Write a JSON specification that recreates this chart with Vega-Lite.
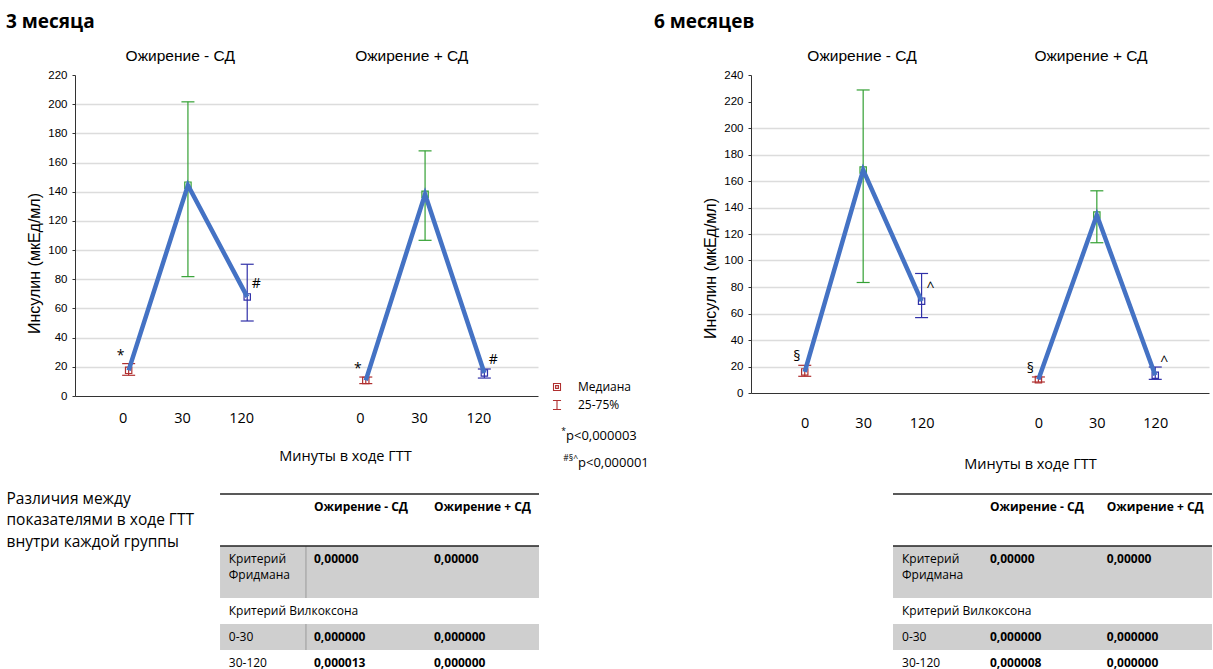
{
  "$schema": "https://vega.github.io/schema/vega-lite/v6.json",
  "padding": {"left": 6, "top": 13, "right": 0, "bottom": 0},
  "background": "white",
  "config": {
    "view": {"stroke": null},
    "font": "Open Sans",
    "title": {"font": "Open Sans", "fontSize": 19, "fontWeight": "bold", "color": "#000000", "anchor": "start", "frame": "group", "offset": 16},
    "axis": {"labelColor": "#000000", "titleColor": "#000000", "domainColor": "#333333", "tickColor": "#333333"}
  },
  "datasets": {
    "m3": [
      {"group": "Ожирение - СД", "minute": "0", "slot": "A0", "median": 17.6, "q1": 14.2, "q3": 22.2, "sign": "*"},
      {"group": "Ожирение - СД", "minute": "30", "slot": "A30", "median": 144.5, "q1": 81.8, "q3": 201.6, "sign": ""},
      {"group": "Ожирение - СД", "minute": "120", "slot": "A120", "median": 67.9, "q1": 51.4, "q3": 90.3, "sign": "#"},
      {"group": "Ожирение + СД", "minute": "0", "slot": "B0", "median": 10.7, "q1": 8.5, "q3": 13.0, "sign": "*"},
      {"group": "Ожирение + СД", "minute": "30", "slot": "B30", "median": 138.3, "q1": 106.7, "q3": 168.0, "sign": ""},
      {"group": "Ожирение + СД", "minute": "120", "slot": "B120", "median": 15.8, "q1": 12.3, "q3": 18.5, "sign": "#"}
    ],
    "m6": [
      {"group": "Ожирение - СД", "minute": "0", "slot": "A0", "median": 15.9, "q1": 12.6, "q3": 20.9, "sign": "§"},
      {"group": "Ожирение - СД", "minute": "30", "slot": "A30", "median": 168.3, "q1": 83.4, "q3": 228.7, "sign": ""},
      {"group": "Ожирение - СД", "minute": "120", "slot": "A120", "median": 69.3, "q1": 56.9, "q3": 90.2, "sign": "^"},
      {"group": "Ожирение + СД", "minute": "0", "slot": "B0", "median": 10.1, "q1": 8.3, "q3": 12.1, "sign": "§"},
      {"group": "Ожирение + СД", "minute": "30", "slot": "B30", "median": 134.3, "q1": 113.4, "q3": 152.6, "sign": ""},
      {"group": "Ожирение + СД", "minute": "120", "slot": "B120", "median": 13.4, "q1": 10.3, "q3": 19.6, "sign": "^"}
    ],
    "groups": [{"group": "Ожирение - СД"}, {"group": "Ожирение + СД"}],
    "legend": [{"item": "Медиана"}, {"item": "25-75%"}],
    "pvalues": [{"sup": "*", "text": "p<0,000003"}, {"sup": "#§^", "text": "p<0,000001"}],
    "desc": [{"text": "Различия между\nпоказателями в ходе ГТТ\nвнутри каждой группы"}],
    "tab3": [
      {"line": "h1", "col": "g1", "text": "Ожирение - СД"},
      {"line": "h1", "col": "g2", "text": "Ожирение + СД"},
      {"line": "f1", "col": "label", "text": "Критерий\nФридмана"},
      {"line": "f1", "col": "g1", "text": "0,00000"},
      {"line": "f1", "col": "g2", "text": "0,00000"},
      {"line": "w", "col": "label", "text": "Критерий Вилкоксона"},
      {"line": "r1", "col": "label", "text": "0-30"},
      {"line": "r1", "col": "g1", "text": "0,000000"},
      {"line": "r1", "col": "g2", "text": "0,000000"},
      {"line": "r2", "col": "label", "text": "30-120"},
      {"line": "r2", "col": "g1", "text": "0,000013"},
      {"line": "r2", "col": "g2", "text": "0,000000"}
    ],
    "tab6": [
      {"line": "h1", "col": "g1", "text": "Ожирение - СД"},
      {"line": "h1", "col": "g2", "text": "Ожирение + СД"},
      {"line": "f1", "col": "label", "text": "Критерий\nФридмана"},
      {"line": "f1", "col": "g1", "text": "0,00000"},
      {"line": "f1", "col": "g2", "text": "0,00000"},
      {"line": "w", "col": "label", "text": "Критерий Вилкоксона"},
      {"line": "r1", "col": "label", "text": "0-30"},
      {"line": "r1", "col": "g1", "text": "0,000000"},
      {"line": "r1", "col": "g2", "text": "0,000000"},
      {"line": "r2", "col": "label", "text": "30-120"},
      {"line": "r2", "col": "g1", "text": "0,000008"},
      {"line": "r2", "col": "g2", "text": "0,000000"}
    ],
    "shades": [{"from": "f1", "to": "w"}, {"from": "r1", "to": "r2"}],
    "hlines": [{"line": "h1"}, {"line": "f1"}]
  },
  "vconcat": [
    {
      "spacing": 2,
      "hconcat": [
        {
          "width": 463,
          "height": 321,
          "title": {"text": "3 месяца", "dx": -69},
          "layer": [
            {
              "data": {"name": "m3"},
              "encoding": {
                "x": {
                  "field": "slot", "type": "nominal",
                  "scale": {"type": "point", "domain": ["A0", "A30", "A120", "gap", "B0", "B30", "B120"], "padding": 0.905},
                  "axis": {
                    "values": ["A0", "A30", "A120", "B0", "B30", "B120"],
                    "labelExpr": "slice(datum.label, 1)",
                    "ticks": false, "labelPadding": 15, "labelBaseline": "top", "labelAngle": 0, "labelOffset": -6,
                    "labelFont": "Open Sans", "labelFontSize": 14.5,
                    "title": "Минуты в ходе ГТТ", "titleFont": "Open Sans", "titleFontSize": 14.5, "titleFontWeight": "normal",
                    "titleX": 270, "titleY": 60, "titleBaseline": "middle", "titleAlign": "center"
                  }
                },
                "color": {"field": "minute", "type": "nominal", "scale": {"domain": ["0", "30", "120"], "range": ["#b03030", "#33a033", "#3030a8"]}, "legend": null}
              },
              "layer": [
                {
                  "mark": {"type": "rule", "strokeWidth": 1.2},
                  "encoding": {
                    "y": {
                      "field": "q1", "type": "quantitative", "title": "Инсулин (мкЕд/мл)",
                      "scale": {"domain": [0, 220], "nice": false},
                      "axis": {"values": [0, 20, 40, 60, 80, 100, 120, 140, 160, 180, 200, 220], "tickCount": 12, "labelOverlap": false, "grid": true, "gridColor": "#dcdcdc", "gridWidth": 1.5, "gridOpacity": {"condition": {"test": "datum.value > 200 || datum.value == 0", "value": 0}, "value": 1}, "tickSize": 3, "labelPadding": 5, "labelFont": "Liberation Sans", "labelFontSize": 11.5, "titleFont": "Liberation Sans", "titleFontSize": 16, "titleFontWeight": "normal", "titleX": -41, "titleY": 188, "titleBaseline": "middle", "titleAlign": "center", "titleAngle": 270}
                    },
                    "y2": {"field": "q3"}
                  }
                },
                {
                  "mark": {"type": "tick", "size": 13, "thickness": 1.2, "opacity": 1},
                  "encoding": {
                    "y": {"field": "q1", "type": "quantitative", "title": "Инсулин (мкЕд/мл)",
                      "axis": {"values": [0, 20, 40, 60, 80, 100, 120, 140, 160, 180, 200, 220], "tickCount": 12, "labelOverlap": false, "grid": true, "gridColor": "#dcdcdc", "gridWidth": 1.5, "gridOpacity": {"condition": {"test": "datum.value > 200 || datum.value == 0", "value": 0}, "value": 1}, "tickSize": 3, "labelPadding": 5, "labelFont": "Liberation Sans", "labelFontSize": 11.5, "titleFont": "Liberation Sans", "titleFontSize": 16, "titleFontWeight": "normal", "titleX": -41, "titleY": 188, "titleBaseline": "middle", "titleAlign": "center", "titleAngle": 270}}
                  }
                },
                {
                  "mark": {"type": "tick", "size": 13, "thickness": 1.2, "opacity": 1},
                  "encoding": {
                    "y": {"field": "q3", "type": "quantitative", "title": "Инсулин (мкЕд/мл)",
                      "axis": {"values": [0, 20, 40, 60, 80, 100, 120, 140, 160, 180, 200, 220], "tickCount": 12, "labelOverlap": false, "grid": true, "gridColor": "#dcdcdc", "gridWidth": 1.5, "gridOpacity": {"condition": {"test": "datum.value > 200 || datum.value == 0", "value": 0}, "value": 1}, "tickSize": 3, "labelPadding": 5, "labelFont": "Liberation Sans", "labelFontSize": 11.5, "titleFont": "Liberation Sans", "titleFontSize": 16, "titleFontWeight": "normal", "titleX": -41, "titleY": 188, "titleBaseline": "middle", "titleAlign": "center", "titleAngle": 270}}
                  }
                },
                {
                  "mark": {"type": "point", "shape": "square", "filled": false, "size": 40, "strokeWidth": 1.2, "opacity": 1},
                  "encoding": {
                    "y": {"field": "median", "type": "quantitative", "title": "Инсулин (мкЕд/мл)",
                      "axis": {"values": [0, 20, 40, 60, 80, 100, 120, 140, 160, 180, 200, 220], "tickCount": 12, "labelOverlap": false, "grid": true, "gridColor": "#dcdcdc", "gridWidth": 1.5, "gridOpacity": {"condition": {"test": "datum.value > 200 || datum.value == 0", "value": 0}, "value": 1}, "tickSize": 3, "labelPadding": 5, "labelFont": "Liberation Sans", "labelFontSize": 11.5, "titleFont": "Liberation Sans", "titleFontSize": 16, "titleFontWeight": "normal", "titleX": -41, "titleY": 188, "titleBaseline": "middle", "titleAlign": "center", "titleAngle": 270}}
                  }
                },
                {
                  "mark": {"type": "line", "color": "#4472C4", "strokeWidth": 4.5},
                  "encoding": {
                    "y": {"field": "median", "type": "quantitative", "title": "Инсулин (мкЕд/мл)",
                      "axis": {"values": [0, 20, 40, 60, 80, 100, 120, 140, 160, 180, 200, 220], "tickCount": 12, "labelOverlap": false, "grid": true, "gridColor": "#dcdcdc", "gridWidth": 1.5, "gridOpacity": {"condition": {"test": "datum.value > 200 || datum.value == 0", "value": 0}, "value": 1}, "tickSize": 3, "labelPadding": 5, "labelFont": "Liberation Sans", "labelFontSize": 11.5, "titleFont": "Liberation Sans", "titleFontSize": 16, "titleFontWeight": "normal", "titleX": -41, "titleY": 188, "titleBaseline": "middle", "titleAlign": "center", "titleAngle": 270}},
                    "color": {"value": "#4472C4"},
                    "detail": {"field": "group", "type": "nominal"},
                    "order": {"value": null}
                  }
                },
                {
                  "transform": [{"filter": "datum.minute == '0'"}],
                  "mark": {"type": "text", "fontSize": 14, "dx": -8, "dy": -8},
                  "encoding": {
                    "y": {"field": "q3", "type": "quantitative", "title": "Инсулин (мкЕд/мл)",
                      "axis": {"values": [0, 20, 40, 60, 80, 100, 120, 140, 160, 180, 200, 220], "tickCount": 12, "labelOverlap": false, "grid": true, "gridColor": "#dcdcdc", "gridWidth": 1.5, "gridOpacity": {"condition": {"test": "datum.value > 200 || datum.value == 0", "value": 0}, "value": 1}, "tickSize": 3, "labelPadding": 5, "labelFont": "Liberation Sans", "labelFontSize": 11.5, "titleFont": "Liberation Sans", "titleFontSize": 16, "titleFontWeight": "normal", "titleX": -41, "titleY": 188, "titleBaseline": "middle", "titleAlign": "center", "titleAngle": 270}},
                    "color": {"value": "#000000"},
                    "text": {"field": "sign"}
                  }
                },
                {
                  "transform": [{"filter": "datum.minute == '120'"}],
                  "mark": {"type": "text", "fontSize": 14, "dx": 9, "dy": -13},
                  "encoding": {
                    "y": {"field": "median", "type": "quantitative", "title": "Инсулин (мкЕд/мл)",
                      "axis": {"values": [0, 20, 40, 60, 80, 100, 120, 140, 160, 180, 200, 220], "tickCount": 12, "labelOverlap": false, "grid": true, "gridColor": "#dcdcdc", "gridWidth": 1.5, "gridOpacity": {"condition": {"test": "datum.value > 200 || datum.value == 0", "value": 0}, "value": 1}, "tickSize": 3, "labelPadding": 5, "labelFont": "Liberation Sans", "labelFontSize": 11.5, "titleFont": "Liberation Sans", "titleFontSize": 16, "titleFontWeight": "normal", "titleX": -41, "titleY": 188, "titleBaseline": "middle", "titleAlign": "center", "titleAngle": 270}},
                    "color": {"value": "#000000"},
                    "text": {"field": "sign"}
                  }
                }
              ]
            },
            {
              "data": {"name": "groups"},
              "mark": {"type": "point", "opacity": 0},
              "encoding": {
                "x": {
                  "field": "group", "type": "nominal", "sort": null,
                  "scale": {"type": "point", "padding": 0.5},
                  "axis": {"orient": "top", "title": null, "domain": false, "ticks": false, "labelAngle": 0, "labelFont": "Liberation Sans", "labelFontSize": 15.5, "labelPadding": 15, "labelBaseline": "alphabetic", "labelOffset": -11}
                }
              }
            }
          ],
          "resolve": {"scale": {"x": "independent"}, "axis": {"x": "independent"}}
        },
        {
          "width": 112,
          "height": 393,
          "layer": [
            {
              "data": {"name": "legend"},
              "encoding": {
                "y": {"field": "item", "type": "nominal", "sort": null, "scale": {"type": "point", "domain": ["Медиана", "25-75%"], "range": [312, 330], "padding": 0}, "axis": null}
              },
              "layer": [
                {
                  "transform": [{"filter": "datum.item == 'Медиана'"}],
                  "mark": {"type": "point", "filled": false, "stroke": "#b03030", "strokeWidth": 1.1, "opacity": 1, "size": 49, "shape": "M-1,-1H1V1H-1ZM-0.4,-0.4H0.4V0.4H-0.4Z"},
                  "encoding": {
                    "x": {"datum": "symbol", "type": "nominal", "scale": {"type": "point", "domain": ["symbol", "label"], "range": [17, 38], "padding": 0}, "axis": null}
                  }
                },
                {
                  "transform": [{"filter": "datum.item == '25-75%'"}],
                  "mark": {"type": "point", "filled": false, "stroke": "#b03030", "strokeWidth": 1.1, "opacity": 1, "size": 81, "shape": "M-0.9,-1H0.9M0,-1V1M-0.9,1H0.9"},
                  "encoding": {
                    "x": {"datum": "symbol", "type": "nominal"}
                  }
                },
                {
                  "mark": {"type": "text", "align": "left", "baseline": "middle", "fontSize": 12, "color": "#000000"},
                  "encoding": {
                    "x": {"datum": "label", "type": "nominal"},
                    "text": {"field": "item"}
                  }
                }
              ]
            },
            {
              "data": {"name": "pvalues"},
              "encoding": {
                "y": {"field": "text", "type": "nominal", "sort": null, "scale": {"type": "point", "domain": ["p<0,000003", "p<0,000001"], "range": [361, 388], "padding": 0}, "axis": null},
                "x": {"field": "text", "type": "nominal", "sort": null, "scale": {"type": "point", "domain": ["p<0,000003", "p<0,000001"], "range": [26, 38], "padding": 0}, "axis": null}
              },
              "layer": [
                {
                  "mark": {"type": "text", "align": "right", "baseline": "middle", "fontSize": 8.5, "dy": -5, "color": "#000000"},
                  "encoding": {"text": {"field": "sup"}}
                },
                {
                  "mark": {"type": "text", "align": "left", "baseline": "middle", "fontSize": 13, "color": "#000000"},
                  "encoding": {"text": {"field": "text"}}
                }
              ]
            }
          ],
          "resolve": {"scale": {"x": "independent", "y": "independent"}}
        },
        {
          "width": 458,
          "height": 318,
          "title": {"text": "6 месяцев", "dx": -97},
          "layer": [
            {
              "data": {"name": "m6"},
              "encoding": {
                "x": {
                  "field": "slot", "type": "nominal",
                  "scale": {"type": "point", "domain": ["A0", "A30", "A120", "gap", "B0", "B30", "B120"], "padding": 0.92},
                  "axis": {
                    "values": ["A0", "A30", "A120", "B0", "B30", "B120"],
                    "labelExpr": "slice(datum.label, 1)",
                    "ticks": false, "labelPadding": 23, "labelBaseline": "top", "labelAngle": 0,
                    "labelFont": "Open Sans", "labelFontSize": 14.5,
                    "title": "Минуты в ходе ГТТ", "titleFont": "Open Sans", "titleFontSize": 14.5, "titleFontWeight": "normal",
                    "titleX": 279, "titleY": 71, "titleBaseline": "middle", "titleAlign": "center"
                  }
                },
                "color": {"field": "minute", "type": "nominal", "scale": {"domain": ["0", "30", "120"], "range": ["#b03030", "#33a033", "#3030a8"]}, "legend": null}
              },
              "layer": [
                {
                  "mark": {"type": "rule", "strokeWidth": 1.2},
                  "encoding": {
                    "y": {
                      "field": "q1", "type": "quantitative", "title": "Инсулин (мкЕд/мл)",
                      "scale": {"domain": [0, 240], "nice": false},
                      "axis": {"values": [0, 20, 40, 60, 80, 100, 120, 140, 160, 180, 200, 220, 240], "tickCount": 13, "labelOverlap": false, "grid": true, "gridColor": "#dcdcdc", "gridWidth": 1.5, "gridOpacity": {"condition": {"test": "datum.value > 200 || datum.value == 0", "value": 0}, "value": 1}, "tickSize": 3, "labelPadding": 5, "labelFont": "Liberation Sans", "labelFontSize": 11.5, "titleFont": "Liberation Sans", "titleFontSize": 16, "titleFontWeight": "normal", "titleX": -41, "titleY": 193, "titleBaseline": "middle", "titleAlign": "center", "titleAngle": 270}
                    },
                    "y2": {"field": "q3"}
                  }
                },
                {
                  "mark": {"type": "tick", "size": 13, "thickness": 1.2, "opacity": 1},
                  "encoding": {
                    "y": {"field": "q1", "type": "quantitative", "title": "Инсулин (мкЕд/мл)",
                      "axis": {"values": [0, 20, 40, 60, 80, 100, 120, 140, 160, 180, 200, 220, 240], "tickCount": 13, "labelOverlap": false, "grid": true, "gridColor": "#dcdcdc", "gridWidth": 1.5, "gridOpacity": {"condition": {"test": "datum.value > 200 || datum.value == 0", "value": 0}, "value": 1}, "tickSize": 3, "labelPadding": 5, "labelFont": "Liberation Sans", "labelFontSize": 11.5, "titleFont": "Liberation Sans", "titleFontSize": 16, "titleFontWeight": "normal", "titleX": -41, "titleY": 193, "titleBaseline": "middle", "titleAlign": "center", "titleAngle": 270}}
                  }
                },
                {
                  "mark": {"type": "tick", "size": 13, "thickness": 1.2, "opacity": 1},
                  "encoding": {
                    "y": {"field": "q3", "type": "quantitative", "title": "Инсулин (мкЕд/мл)",
                      "axis": {"values": [0, 20, 40, 60, 80, 100, 120, 140, 160, 180, 200, 220, 240], "tickCount": 13, "labelOverlap": false, "grid": true, "gridColor": "#dcdcdc", "gridWidth": 1.5, "gridOpacity": {"condition": {"test": "datum.value > 200 || datum.value == 0", "value": 0}, "value": 1}, "tickSize": 3, "labelPadding": 5, "labelFont": "Liberation Sans", "labelFontSize": 11.5, "titleFont": "Liberation Sans", "titleFontSize": 16, "titleFontWeight": "normal", "titleX": -41, "titleY": 193, "titleBaseline": "middle", "titleAlign": "center", "titleAngle": 270}}
                  }
                },
                {
                  "mark": {"type": "point", "shape": "square", "filled": false, "size": 40, "strokeWidth": 1.2, "opacity": 1},
                  "encoding": {
                    "y": {"field": "median", "type": "quantitative", "title": "Инсулин (мкЕд/мл)",
                      "axis": {"values": [0, 20, 40, 60, 80, 100, 120, 140, 160, 180, 200, 220, 240], "tickCount": 13, "labelOverlap": false, "grid": true, "gridColor": "#dcdcdc", "gridWidth": 1.5, "gridOpacity": {"condition": {"test": "datum.value > 200 || datum.value == 0", "value": 0}, "value": 1}, "tickSize": 3, "labelPadding": 5, "labelFont": "Liberation Sans", "labelFontSize": 11.5, "titleFont": "Liberation Sans", "titleFontSize": 16, "titleFontWeight": "normal", "titleX": -41, "titleY": 193, "titleBaseline": "middle", "titleAlign": "center", "titleAngle": 270}}
                  }
                },
                {
                  "mark": {"type": "line", "color": "#4472C4", "strokeWidth": 4.5},
                  "encoding": {
                    "y": {"field": "median", "type": "quantitative", "title": "Инсулин (мкЕд/мл)",
                      "axis": {"values": [0, 20, 40, 60, 80, 100, 120, 140, 160, 180, 200, 220, 240], "tickCount": 13, "labelOverlap": false, "grid": true, "gridColor": "#dcdcdc", "gridWidth": 1.5, "gridOpacity": {"condition": {"test": "datum.value > 200 || datum.value == 0", "value": 0}, "value": 1}, "tickSize": 3, "labelPadding": 5, "labelFont": "Liberation Sans", "labelFontSize": 11.5, "titleFont": "Liberation Sans", "titleFontSize": 16, "titleFontWeight": "normal", "titleX": -41, "titleY": 193, "titleBaseline": "middle", "titleAlign": "center", "titleAngle": 270}},
                    "color": {"value": "#4472C4"},
                    "detail": {"field": "group", "type": "nominal"},
                    "order": {"value": null}
                  }
                },
                {
                  "transform": [{"filter": "datum.minute == '0'"}],
                  "mark": {"type": "text", "fontSize": 14, "dx": -8, "dy": -8},
                  "encoding": {
                    "y": {"field": "q3", "type": "quantitative", "title": "Инсулин (мкЕд/мл)",
                      "axis": {"values": [0, 20, 40, 60, 80, 100, 120, 140, 160, 180, 200, 220, 240], "tickCount": 13, "labelOverlap": false, "grid": true, "gridColor": "#dcdcdc", "gridWidth": 1.5, "gridOpacity": {"condition": {"test": "datum.value > 200 || datum.value == 0", "value": 0}, "value": 1}, "tickSize": 3, "labelPadding": 5, "labelFont": "Liberation Sans", "labelFontSize": 11.5, "titleFont": "Liberation Sans", "titleFontSize": 16, "titleFontWeight": "normal", "titleX": -41, "titleY": 193, "titleBaseline": "middle", "titleAlign": "center", "titleAngle": 270}},
                    "color": {"value": "#000000"},
                    "text": {"field": "sign"}
                  }
                },
                {
                  "transform": [{"filter": "datum.minute == '120'"}],
                  "mark": {"type": "text", "fontSize": 14, "dx": 9, "dy": -13},
                  "encoding": {
                    "y": {"field": "median", "type": "quantitative", "title": "Инсулин (мкЕд/мл)",
                      "axis": {"values": [0, 20, 40, 60, 80, 100, 120, 140, 160, 180, 200, 220, 240], "tickCount": 13, "labelOverlap": false, "grid": true, "gridColor": "#dcdcdc", "gridWidth": 1.5, "gridOpacity": {"condition": {"test": "datum.value > 200 || datum.value == 0", "value": 0}, "value": 1}, "tickSize": 3, "labelPadding": 5, "labelFont": "Liberation Sans", "labelFontSize": 11.5, "titleFont": "Liberation Sans", "titleFontSize": 16, "titleFontWeight": "normal", "titleX": -41, "titleY": 193, "titleBaseline": "middle", "titleAlign": "center", "titleAngle": 270}},
                    "color": {"value": "#000000"},
                    "text": {"field": "sign"}
                  }
                }
              ]
            },
            {
              "data": {"name": "groups"},
              "mark": {"type": "point", "opacity": 0},
              "encoding": {
                "x": {
                  "field": "group", "type": "nominal", "sort": null,
                  "scale": {"type": "point", "padding": 0.5},
                  "axis": {"orient": "top", "title": null, "domain": false, "ticks": false, "labelAngle": 0, "labelFont": "Liberation Sans", "labelFontSize": 15.5, "labelPadding": 15, "labelBaseline": "alphabetic", "labelOffset": -4}
                }
              }
            }
          ],
          "resolve": {"scale": {"x": "independent"}, "axis": {"x": "independent"}}
        }
      ]
    },
    {
      "spacing": 319,
      "hconcat": [
        {
          "bounds": "flush",
          "spacing": 118,
          "hconcat": [
            {
              "width": 1,
              "height": 1,
              "data": {"name": "desc"},
              "mark": {"type": "text", "align": "left", "baseline": "top", "fontSize": 15.5, "lineBreak": "\n", "lineHeight": 21.5, "dx": -69, "dy": -3, "color": "#000000"},
              "encoding": {"text": {"field": "text"}}
            },
            {
              "width": 360,
              "height": 177,
              "layer": [
                {
                  "data": {"name": "shades"},
                  "mark": {"type": "rect", "color": "#cfcfcf"},
                  "encoding": {
                    "x": {"datum": "label", "type": "nominal", "bandPosition": 0.217, "scale": {"type": "band", "domain": ["label", "g1", "g2"], "paddingInner": 0, "paddingOuter": 0}, "axis": null},
                    "x2": {"datum": "g2", "bandPosition": 0.875},
                    "y": {"field": "from", "type": "nominal", "bandPosition": 0, "scale": {"type": "band", "domain": ["h1", "h2", "f1", "f2", "w", "r1", "r2"], "range": [0, 182], "paddingInner": 0, "paddingOuter": 0}, "axis": null},
                    "y2": {"field": "to", "bandPosition": 0}
                  }
                },
                {
                  "data": {"name": "shades"},
                  "mark": {"type": "rule", "color": "#9a9a9a", "strokeWidth": 1},
                  "encoding": {
                    "x": {"datum": "label", "type": "nominal", "bandPosition": 0.933},
                    "y": {"field": "from", "type": "nominal", "bandPosition": 0},
                    "y2": {"field": "to", "bandPosition": 0}
                  }
                },
                {
                  "data": {"name": "hlines"},
                  "mark": {"type": "rule", "color": "#222222", "strokeWidth": 1.5},
                  "encoding": {
                    "x": {"datum": "label", "type": "nominal", "bandPosition": 0.217},
                    "x2": {"datum": "g2", "bandPosition": 0.875},
                    "y": {"field": "line", "type": "nominal", "bandPosition": 0}
                  }
                },
                {
                  "data": {"name": "tab3"},
                  "transform": [{"filter": "datum.col == 'label'"}],
                  "mark": {"type": "text", "align": "left", "baseline": "middle", "fontSize": 12, "lineBreak": "\n", "lineHeight": 16, "color": "#000000"},
                  "encoding": {
                    "x": {"field": "col", "type": "nominal", "bandPosition": 0.29},
                    "y": {"field": "line", "type": "nominal", "bandPosition": 0.5},
                    "text": {"field": "text"}
                  }
                },
                {
                  "data": {"name": "tab3"},
                  "transform": [{"filter": "datum.col != 'label'"}],
                  "mark": {"type": "text", "align": "left", "baseline": "middle", "fontSize": 12, "fontWeight": "bold", "color": "#000000"},
                  "encoding": {
                    "x": {"field": "col", "type": "nominal", "bandPosition": 0},
                    "y": {"field": "line", "type": "nominal", "bandPosition": 0.5},
                    "text": {"field": "text"}
                  }
                }
              ]
            }
          ]
        },
        {
          "width": 339,
          "height": 177,
          "layer": [
            {
              "data": {"name": "shades"},
              "mark": {"type": "rect", "color": "#cfcfcf"},
              "encoding": {
                "x": {"datum": "label", "type": "nominal", "bandPosition": 0.19, "scale": {"type": "band", "domain": ["label", "g1", "g2"], "paddingInner": 0.1, "paddingOuter": 0}, "axis": null},
                "x2": {"datum": "g2", "bandPosition": 1},
                "y": {"field": "from", "type": "nominal", "bandPosition": 0, "scale": {"type": "band", "domain": ["h1", "h2", "f1", "f2", "w", "r1", "r2"], "range": [0, 182], "paddingInner": 0, "paddingOuter": 0}, "axis": null},
                "y2": {"field": "to", "bandPosition": 0}
              }
            },
            {
              "data": {"name": "hlines"},
              "mark": {"type": "rule", "color": "#222222", "strokeWidth": 1.5},
              "encoding": {
                "x": {"datum": "label", "type": "nominal", "bandPosition": 0.19},
                "x2": {"datum": "g2", "bandPosition": 1},
                "y": {"field": "line", "type": "nominal", "bandPosition": 0}
              }
            },
            {
              "data": {"name": "tab6"},
              "transform": [{"filter": "datum.col == 'label'"}],
              "mark": {"type": "text", "align": "left", "baseline": "middle", "fontSize": 12, "lineBreak": "\n", "lineHeight": 16, "color": "#000000"},
              "encoding": {
                "x": {"field": "col", "type": "nominal", "bandPosition": 0.276},
                "y": {"field": "line", "type": "nominal", "bandPosition": 0.5},
                "text": {"field": "text"}
              }
            },
            {
              "data": {"name": "tab6"},
              "transform": [{"filter": "datum.col != 'label'"}],
              "mark": {"type": "text", "align": "left", "baseline": "middle", "fontSize": 12, "fontWeight": "bold", "color": "#000000"},
              "encoding": {
                "x": {"field": "col", "type": "nominal", "bandPosition": 0},
                "y": {"field": "line", "type": "nominal", "bandPosition": 0.5},
                "text": {"field": "text"}
              }
            }
          ]
        }
      ]
    }
  ],
  "spacing": 20
}
